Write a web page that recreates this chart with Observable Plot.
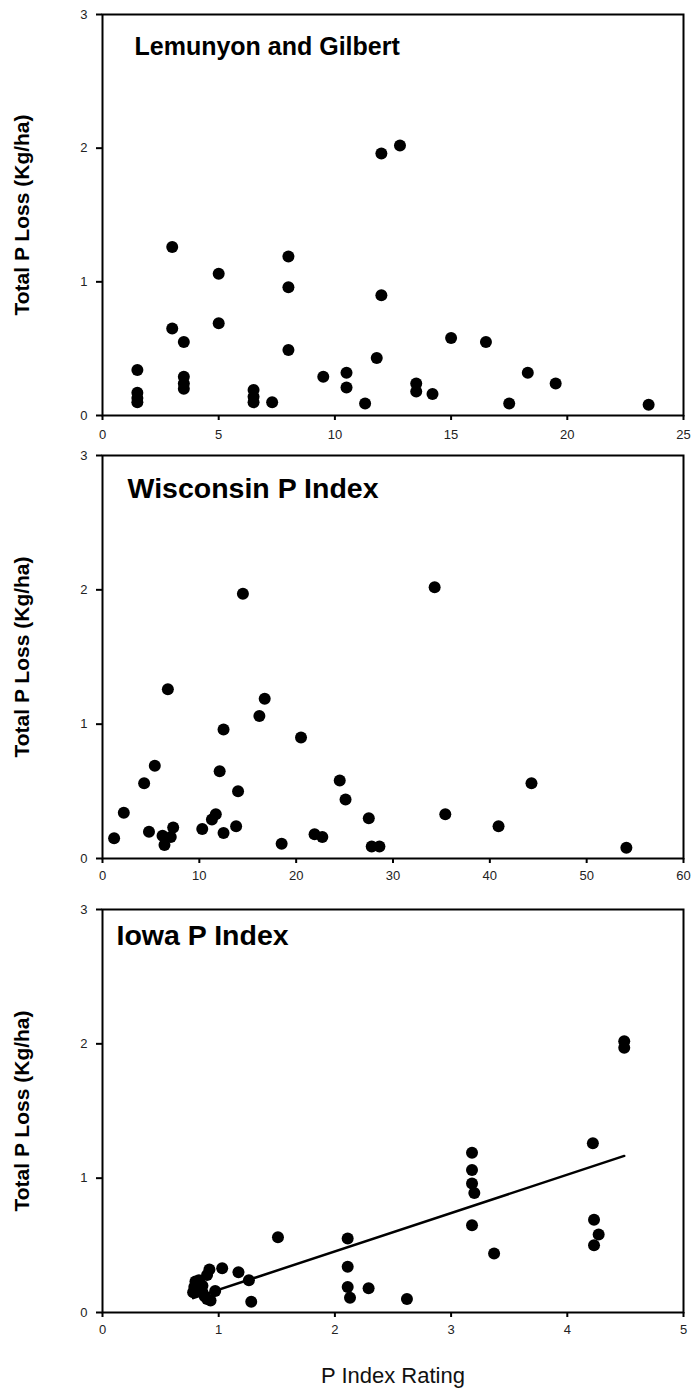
<!DOCTYPE html>
<html>
<head>
<meta charset="utf-8">
<script src="https://cdn.jsdelivr.net/npm/d3@7"></script>
<script src="https://cdn.jsdelivr.net/npm/@observablehq/plot@0.6"></script>
<style>
  html, body { margin: 0; padding: 0; background: #fff; }
  #wrap { position: relative; width: 693px; height: 1391px; font-family: "Liberation Sans", Arial, sans-serif; }
  #wrap svg { position: absolute; left: 0; background: #fff; overflow: visible; }
</style>
</head>
<body>
<div id="wrap"></div>
<script>
// Panel titles and axis text
const panelTitles = ["Lemunyon and Gilbert", "Wisconsin P Index", "Iowa P Index"];
const yLabel = "Total P Loss (Kg/ha)";
const xLabel = "P Index Rating";
const yTicks = [0, 1, 2, 3];
const lgTicks = [0, 5, 10, 15, 20, 25];
const wiTicks = [0, 10, 20, 30, 40, 50, 60];
const iaTicks = [0, 1, 2, 3, 4, 5];

// Lemunyon and Gilbert rating vs total P loss
const lgX = [1.5, 1.5, 1.5, 1.5, 3.0, 3.0, 3.5, 3.5, 3.5, 3.5, 5.0, 5.0, 6.5, 6.5, 6.5, 7.3, 8.0, 8.0, 8.0, 9.5, 10.5, 10.5, 11.3, 11.8, 12.0, 12.0, 12.8, 13.5, 13.5, 14.2, 15.0, 16.5, 17.5, 18.3, 19.5, 23.5];
const lgY = [0.34, 0.17, 0.13, 0.10, 1.26, 0.65, 0.55, 0.29, 0.24, 0.20, 1.06, 0.69, 0.19, 0.14, 0.10, 0.10, 1.19, 0.96, 0.49, 0.29, 0.32, 0.21, 0.09, 0.43, 0.90, 1.96, 2.02, 0.24, 0.18, 0.16, 0.58, 0.55, 0.09, 0.32, 0.24, 0.08];

// Wisconsin P Index
const wiX = [1.2, 2.2, 4.3, 4.8, 5.4, 6.75, 6.2, 6.4, 7.05, 7.3, 10.3, 11.3, 11.7, 12.1, 12.5, 12.5, 13.8, 14.0, 14.5, 16.2, 16.75, 18.5, 20.5, 21.9, 22.7, 24.5, 25.1, 27.5, 27.8, 28.6, 34.3, 35.4, 40.9, 44.3, 54.1];
const wiY = [0.15, 0.34, 0.56, 0.20, 0.69, 1.26, 0.17, 0.10, 0.16, 0.23, 0.22, 0.29, 0.33, 0.65, 0.96, 0.19, 0.24, 0.50, 1.97, 1.06, 1.19, 0.11, 0.90, 0.18, 0.16, 0.58, 0.44, 0.30, 0.09, 0.09, 2.02, 0.33, 0.24, 0.56, 0.08];

// Iowa P Index
const iaX = [0.78, 0.79, 0.80, 0.83, 0.86, 0.86, 0.88, 0.90, 0.92, 0.90, 0.93, 0.97, 1.03, 1.17, 1.26, 1.28, 1.51, 2.11, 2.11, 2.11, 2.13, 2.29, 2.62, 3.18, 3.18, 3.18, 3.20, 3.18, 3.37, 4.22, 4.23, 4.27, 4.23, 4.49, 4.49];
const iaY = [0.15, 0.19, 0.23, 0.24, 0.20, 0.15, 0.12, 0.28, 0.32, 0.10, 0.09, 0.16, 0.33, 0.30, 0.24, 0.08, 0.56, 0.55, 0.34, 0.19, 0.11, 0.18, 0.10, 1.19, 1.06, 0.96, 0.89, 0.65, 0.44, 1.26, 0.69, 0.58, 0.50, 2.02, 1.97];

const toRows = (xs, ys) => xs.map((x, i) => ({x, y: ys[i]}));

const FONT = "Liberation Sans, Arial, sans-serif";
const intFmt = d => String(d);

function panel({rows, xDomain, xTicks, title, titleSize, titleDx, titleDy, height, marginTop, marginBottom, xPad, regression, showXLabel}) {
  const marks = [
    Plot.frame({stroke: "#000", strokeWidth: 2}),
    Plot.axisY(yTicks, {tickSize: 6, tickPadding: 9, strokeWidth: 2, fontSize: 13, fill: "#222", label: null, tickFormat: intFmt}),
    Plot.axisX(xTicks, {tickSize: 5, tickPadding: xPad, strokeWidth: 2, fontSize: 13, fill: "#222", label: null, tickFormat: intFmt}),
    Plot.dot(rows, {x: "x", y: "y", r: 6, fill: "#000", stroke: "none"}),
    Plot.text([title], {frameAnchor: "top-left", text: d => d, dx: titleDx, dy: titleDy, textAnchor: "start", lineAnchor: "top", fontSize: titleSize, fontWeight: "bold", fill: "#000"}),
    Plot.text([yLabel], {frameAnchor: "left", text: d => d, dx: -80, rotate: -90, textAnchor: "middle", fontSize: 21, fontWeight: "bold", fill: "#000"})
  ];
  if (regression) {
    marks.push(Plot.linearRegressionY(rows, {x: "x", y: "y", ci: 0, stroke: "#000", strokeWidth: 2.5}));
  }
  if (showXLabel) {
    marks.push(Plot.text([xLabel], {frameAnchor: "bottom", text: d => d, dy: 63, lineAnchor: "middle", fontSize: 22, fill: "#111"}));
  }
  return Plot.plot({
    width: 693,
    height,
    marginLeft: 102,
    marginRight: 10,
    marginTop,
    marginBottom,
    style: {fontFamily: FONT, background: "#fff", overflow: "visible"},
    x: {domain: xDomain},
    y: {domain: [0, 3]},
    marks
  });
}

const wrap = document.getElementById("wrap");
const specs = [
  {top: 0, rows: toRows(lgX, lgY), xDomain: [0, 25], xTicks: lgTicks, title: panelTitles[0], titleSize: 25, titleDx: 32, titleDy: 23, height: 440, marginTop: 14, marginBottom: 25, xPad: 9},
  {top: 440, rows: toRows(wiX, wiY), xDomain: [0, 60], xTicks: wiTicks, title: panelTitles[1], titleSize: 28.5, titleDx: 25, titleDy: 22, height: 445, marginTop: 15, marginBottom: 27, xPad: 7},
  {top: 885, rows: toRows(iaX, iaY), xDomain: [0, 5], xTicks: iaTicks, title: panelTitles[2], titleSize: 28.5, titleDx: 14, titleDy: 15, height: 506, marginTop: 24, marginBottom: 79, xPad: 7, regression: true, showXLabel: true}
];
for (const s of specs) {
  const svg = panel(s);
  svg.style.top = s.top + "px";
  wrap.appendChild(svg);
}
</script>
</body>
</html>
